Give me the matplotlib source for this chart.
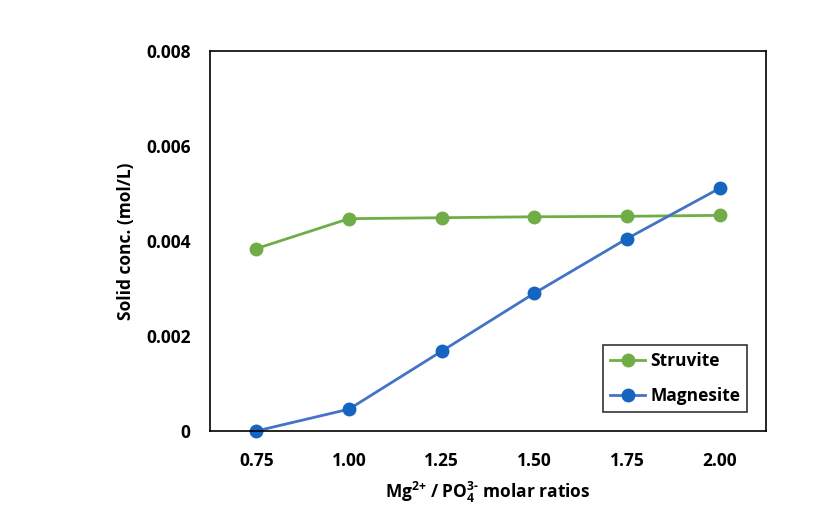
import numpy as np
import matplotlib.pyplot as plt

plt.rcParams['font.family'] = ['Open Sans', 'DejaVu Sans']
plt.rcParams['font.weight'] = 'bold'
plt.rcParams['mathtext.fontset'] = 'custom'
plt.rcParams['mathtext.rm'] = 'Open Sans:bold'
plt.rcParams['mathtext.bf'] = 'Open Sans:bold'
plt.rcParams['mathtext.default'] = 'bf'

# data
ratios = ['0.75', '1.00', '1.25', '1.50', '1.75', '2.00']
struvite = [0.00384, 0.00447, 0.00449, 0.00451, 0.00452, 0.00454]
magnesite = [0.0, 0.00046, 0.00168, 0.00290, 0.00405, 0.00511]
yticks = [0, 0.002, 0.004, 0.006, 0.008]
ytick_labels = ['0', '0.002', '0.004', '0.006', '0.008']

fig = plt.figure(figsize=(8.39, 5.11), dpi=100)
ax = fig.add_axes([210 / 839, 1 - 431 / 511, 556 / 839, 380 / 511])

x = np.arange(len(ratios))
ax.plot(x, struvite, color='#70AD47', linewidth=2, marker='o', markersize=10,
        markerfacecolor='#70AD47', markeredgewidth=0, label='Struvite')
ax.plot(x, magnesite, color='#4472C4', linewidth=2, marker='o', markersize=10,
        markerfacecolor='#1565C0', markeredgewidth=0, label='Magnesite', clip_on=False)

ax.set_xlim(-0.5, len(ratios) - 0.5)
ax.set_ylim(0, 0.008)
ax.set_xticks(x)
ax.set_xticklabels(ratios, fontsize=12.5, fontweight='bold')
ax.set_yticks(yticks)
ax.set_yticklabels(ytick_labels, fontsize=12.5, fontweight='bold')
ax.tick_params(axis='x', length=0, pad=15)
ax.tick_params(axis='y', length=0, pad=14)
for s in ax.spines.values():
    s.set_linewidth(1.2)
    s.set_color('black')

ax.set_xlabel(r'Mg$^{2{+}}$ / PO$_{4}^{3\text{-}}$ molar ratios',
              fontsize=12.5, fontweight='bold', labelpad=7)
ax.set_ylabel('Solid conc. (mol/L)', fontsize=12.5, fontweight='bold', labelpad=8)

leg = ax.legend(loc='lower right', bbox_to_anchor=(0.982, 0.026), fontsize=12.5,
                frameon=True, fancybox=False, edgecolor='black', handlelength=2.0,
                borderpad=0.4, labelspacing=1.0, handletextpad=0.3)
leg.get_frame().set_linewidth(1.2)

fig.savefig('out.png', dpi=100)
